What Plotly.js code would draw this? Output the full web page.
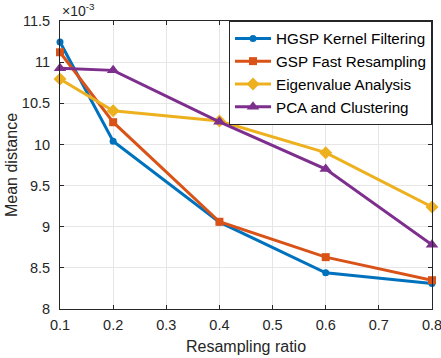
<!DOCTYPE html>
<html><head><meta charset="utf-8">
<script src="https://cdn.plot.ly/plotly-3.0.1.min.js"></script>
<style>html,body{margin:0;padding:0;background:#fff}#chart{width:441px;height:358px}</style>
</head><body><div id="chart"></div>
<script>
const ratios = [0.1, 0.2, 0.4, 0.6, 0.8];
const hgsp = [11.245, 10.04, 9.055, 8.44, 8.31];
const gspFast = [11.12, 10.27, 9.06, 8.63, 8.35];
const eigen = [10.795, 10.41, 10.285, 9.9, 9.24];
const pcaClust = [10.925, 10.9, 10.275, 9.70, 8.78];
const xTicks = [0.1, 0.2, 0.3, 0.4, 0.5, 0.6, 0.7, 0.8];
const xTickText = ['0.1','0.2','0.3','0.4','0.5','0.6','0.7','0.8'];
const yTicks = [8, 8.5, 9, 9.5, 10, 10.5, 11, 11.5];
const yTickText = ['8','8.5','9','9.5','10','10.5','11','11.5'];

const FONT = 'Liberation Sans, Arial, Helvetica, sans-serif';
const series = [
  {name:'HGSP Kernel Filtering', y:hgsp, color:'#0072BD', symbol:'circle', size:7},
  {name:'GSP Fast Resampling', y:gspFast, color:'#D95319', symbol:'square', size:8},
  {name:'Eigenvalue Analysis', y:eigen, color:'#EDB120', symbol:'diamond', size:10},
  {name:'PCA and Clustering', y:pcaClust, color:'#7E2F8E', symbol:'triangle-up', size:11}
];
const traces = series.map(s => ({
  x: ratios, y: s.y, name: s.name, type:'scatter', mode:'lines+markers',
  line:{color:s.color, width:3},
  marker:{color:s.color, symbol:s.symbol, size:s.size},
  cliponaxis:false
}));
const axisCommon = {
  showline:true, linecolor:'#262626', linewidth:1, mirror:'allticks',
  ticks:'inside', ticklen:4, tickcolor:'#262626',
  showgrid:true, gridcolor:'#e6e6e6', gridwidth:1, zeroline:false,
  tickfont:{family:FONT, size:14.5, color:'#262626'},
  tickmode:'array', ticklabeloverflow:'allow'
};
const layout = {
  width:441, height:358,
  margin:{l:60, r:9, t:21, b:49},
  paper_bgcolor:'#fff', plot_bgcolor:'#fff',
  font:{family:FONT, color:'#262626'},
  xaxis:Object.assign({}, axisCommon, {
    range:[0.1,0.8], tickvals:xTicks, ticktext:xTickText, ticklabelstandoff:3,
    title:{text:'Resampling ratio', font:{size:16, color:'#262626'}, standoff:8}
  }),
  yaxis:Object.assign({}, axisCommon, {
    range:[8,11.5], tickvals:yTicks, ticktext:yTickText, ticklabelstandoff:6,
    title:{text:'Mean distance', font:{size:16, color:'#262626'}, standoff:0}
  }),
  legend:{x:1, xanchor:'right', y:1, yanchor:'top', bgcolor:'#fff',
    bordercolor:'#262626', borderwidth:1, itemwidth:36,
    font:{size:15.2, color:'#000', family:FONT},
    tracegroupgap:0},
  annotations:[{xref:'paper', yref:'paper', x:0, y:1, xanchor:'left', yanchor:'bottom',
    xshift:0, yshift:0, showarrow:false,
    text:'×10<sup>-3</sup>', font:{size:14, color:'#262626', family:FONT}}],
  showlegend:true
};
Plotly.newPlot('chart', traces, layout, {displayModeBar:false, staticPlot:true});
</script></body></html>
